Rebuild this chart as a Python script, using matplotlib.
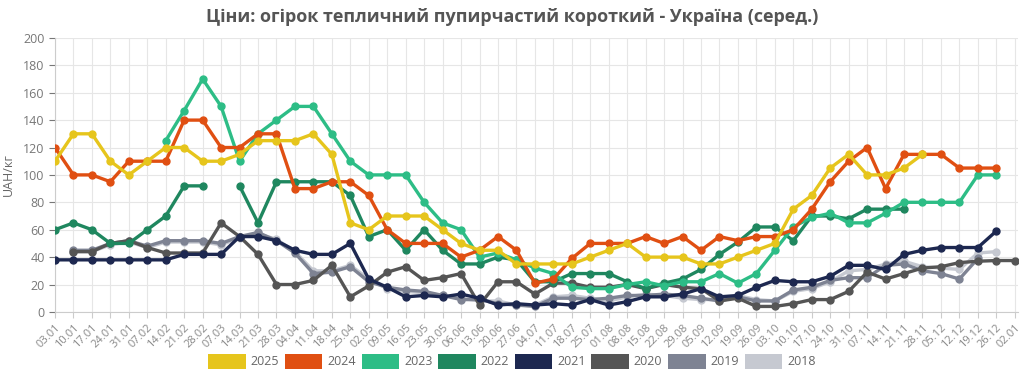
import numpy as np
import matplotlib
matplotlib.use("Agg")
import matplotlib.pyplot as plt
from matplotlib.patches import Patch

plt.rcParams['font.family'] = ['Open Sans', 'DejaVu Sans']

nan = np.nan

dates = ["03.01", "10.01", "17.01", "24.01", "31.01", "07.02", "14.02", "21.02", "28.02",
         "07.03", "14.03", "21.03", "28.03", "04.04", "11.04", "18.04", "25.04", "02.05",
         "09.05", "16.05", "23.05", "30.05", "06.06", "13.06", "20.06", "27.06", "04.07",
         "11.07", "18.07", "25.07", "01.08", "08.08", "15.08", "22.08", "29.08", "05.09",
         "12.09", "19.09", "26.09", "03.10", "10.10", "17.10", "24.10", "31.10", "07.11",
         "14.11", "21.11", "28.11", "05.12", "12.12", "19.12", "26.12", "02.01"]

y2025 = [110, 130, 130, 110, 100, 110, 120, 120, 110, 110, 115, 125, 125, 125, 130, 115,
         65, 60, 70, 70, 70, 60, 50, 45, 45, 35, 35, 35, 35, 40, 45, 50, 40, 40, 40, 35,
         35, 40, 45, 50, 75, 85, 105, 115, 100, 100, 105, 115, nan, nan, nan, nan, nan]

y2024 = [120, 100, 100, 95, 110, 110, 110, 140, 140, 120, 120, 130, 130, 90, 90, 95, 95,
         85, 60, 50, 50, 50, 40, 45, 55, 45, 21, 24, 39, 50, 50, 50, 55, 50, 55, 45, 55,
         52, 55, 55, 60, 75, 95, 110, 120, 90, 115, 115, 115, 105, 105, 105, nan]

y2023 = [nan, nan, nan, nan, nan, nan, 125, 147, 170, 150, 110, 130, 140, 150, 150, 130,
         110, 100, 100, 100, 80, 65, 60, 40, 43, 38, 32, 28, 18, 17, 17, 20, 22, 19, 22,
         22, 28, 21, 28, 45, 62, 69, 72, 65, 65, 72, 80, 80, 80, 80, 100, 100, nan]

y2022 = [60, 65, 60, 50, 50, 60, 70, 92, 92, nan, 92, 65, 95, 95, 95, 95, 85, 55, 60, 45,
         60, 45, 35, 35, 40, 38, 22, 22, 28, 28, 28, 22, 17, 21, 24, 31, 42, 51, 62, 62,
         52, 70, 70, 68, 75, 75, 75, nan, nan, nan, nan, nan, nan]

y2021 = [38, 38, 38, 38, 38, 38, 38, 42, 42, 42, 55, 55, 52, 45, 42, 42, 50, 24, 18, 11,
         12, 11, 13, 10, 5, 6, 5, 6, 5, 9, 5, 7.5, 11, 11, 13, 17, 11, 12, 18, 23, 22, 22,
         26, 34, 34, 31, 42, 45, 47, 47, 47, 59, nan]

y2020 = [nan, 44, 44, 50, 52, 47, 43, 43, 43, 65, 55, 42, 20, 20, 23, 34, 11, 19, 29, 33,
         23, 25, 28, 5, 22, 22, 13, 21, 21, 18, 18, 20, 17, 20, 18, 17, 8, 10, 4, 4, 6, 9,
         9, 15, 29, 24, 28, 32, 33, 36, 37, 37.5, 37.5]

y2019 = [nan, 45, 45, 50, 52, 48, 52, 52, 52, 50, 55, 58, 52, 43, 28, 29, 33, 22, 18, 16,
         15, 12, 9, 9, 6, 5, 4, 10, 10, 9, 10, 12, 12, 13, 12, 10, 8, 11, 8, 8, 16, 18, 23,
         25, 25, 34, 35, 30, 28, 24, 39, nan, nan]

y2018 = [nan, 44, 44, 49, 51, 47, 51, 51, 51, 49, 54, 57, 53, 44, 30, 30, 34, 24, 17, 15,
         14, 12, 10, 8, 8, 5, 5, 11, 12, 10, 8, 11, 13, 12, 10, 9, 9, 12, 9, 8, 15, 17, 22,
         30, 31, 35, 37, 33, 32, 31, 43, 44, nan]

years = ["2025", "2024", "2023", "2022", "2021", "2020", "2019", "2018"]
series = [y2025, y2024, y2023, y2022, y2021, y2020, y2019, y2018]
colors = ["#e6c51c", "#e04f12", "#2dbd86", "#1f875f", "#1d2850", "#555555", "#7e8393", "#c6c9d1"]

fig = plt.figure(figsize=(10.24, 3.79), dpi=100)
ax = fig.add_axes([0.0537, 0.177, 0.940, 0.723])

x = np.arange(len(dates))
# draw oldest first so newer years sit on top
for yr, vals, c in reversed(list(zip(years, series, colors))):
    ax.plot(x, vals, color=c, lw=2.4, marker='o', ms=5, zorder=3)

ax.set_xlim(0, 52.15)
ax.set_ylim(0, 200)
ax.set_yticks(range(0, 201, 20))
ax.set_xticks(x)
ax.set_xticklabels(dates, rotation=45, ha='right', rotation_mode='anchor',
                   fontsize=8, color='#888888')
ax.tick_params(axis='y', labelsize=9, colors='#777777', length=4, width=0.8)
ax.tick_params(axis='x', length=4, width=0.8, colors='#cccccc', labelcolor='#888888')
ax.grid(True, color='#e6e6e6', lw=0.8)
ax.set_axisbelow(True)
for s in ['top', 'right']:
    ax.spines[s].set_visible(False)
ax.spines['left'].set_color('#cccccc')
ax.spines['bottom'].set_color('#cccccc')
ax.set_ylabel("UAH/кг", fontsize=9, color='#666666', labelpad=6)

fig.text(0.5, 0.955, "Ціни: огірок тепличний пупирчастий короткий - Україна (серед.)",
         ha='center', va='center', fontsize=13, fontweight='bold', color='#555555')

handles = [Patch(facecolor=c, edgecolor='none', label=y) for y, c in zip(years, colors)]
fig.legend(handles=handles, loc='center', bbox_to_anchor=(0.5, 0.047), ncol=8,
           frameon=False, handlelength=3.0, handleheight=1.5, columnspacing=0.45,
           handletextpad=0.4, fontsize=9, labelcolor='#666666')

fig.savefig("out.png", dpi=100)
